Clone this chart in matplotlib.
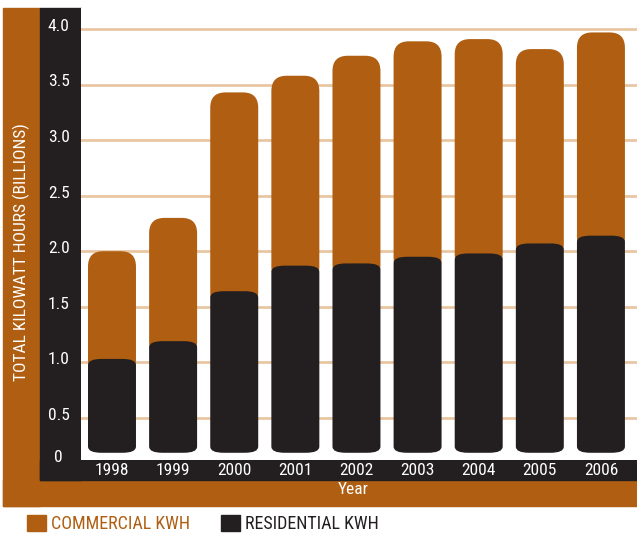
import matplotlib
matplotlib.use('Agg')
import matplotlib.pyplot as plt
from matplotlib.patches import Rectangle, FancyBboxPatch, Patch
from matplotlib.transforms import ScaledTranslation

# data (billions of kWh)
years = ['1998', '1999', '2000', '2001', '2002', '2003', '2004', '2005', '2006']
residential = [1.03, 1.19, 1.64, 1.87, 1.89, 1.95, 1.98, 2.07, 2.14]
total = [2.00, 2.30, 3.43, 3.58, 3.76, 3.89, 3.91, 3.82, 3.97]
commercial = [t - r for t, r in zip(total, residential)]
ytick_vals = [0.5, 1.0, 1.5, 2.0, 2.5, 3.0, 3.5, 4.0]

ORANGE = '#b05f12'
DARK = '#231f20'
GRID = '#e9c6a2'
W, H = 637, 536
plt.rcParams['font.family'] = ['Roboto Condensed', 'DejaVu Sans']

fig = plt.figure(figsize=(W / 100, H / 100), dpi=100)


def fig_rect(x0, y0, x1, y1, color):
    # pixel coords, origin top-left
    fig.patches.append(Rectangle((x0 / W, 1 - y1 / H), (x1 - x0) / W, (y1 - y0) / H,
                                 transform=fig.transFigure, color=color, zorder=-5))


fig_rect(3, 8, 40, 506, ORANGE)
fig_rect(3, 480, 637, 506, ORANGE)
fig_rect(40, 8, 81, 480, DARK)
fig_rect(40, 460, 637, 480, DARK)

ax = fig.add_axes([81 / W, 1 - 460 / H, 1 - 81 / W, (460 - 8) / H])
ax.set_facecolor('white')
y_lo, y_hi = 0.12, 4.19
x_lo, x_hi = -0.507, 8.59
ax.set_xlim(x_lo, x_hi)
ax.set_ylim(y_lo, y_hi)
for s in ax.spines.values():
    s.set_visible(False)

for v in ytick_vals:
    ax.axhline(v, color=GRID, lw=2, zorder=1)

base = 0.185
bw = 0.785
xs = range(len(years))
# pixel aspect: y units per px / x units per px
ax_w = W - 81
ax_h = 460 - 8
aspect = ((y_hi - y_lo) / ax_h) / ((x_hi - x_lo) / ax_w)

com_bars = ax.bar(xs, commercial, bw, bottom=residential, color=ORANGE, zorder=2)
res_bars = ax.bar(xs, [r - base for r in residential], bw, bottom=base, color=DARK, zorder=3)

for b in com_bars:
    x0, w = b.get_x(), b.get_width()
    y0 = b.get_y() - 0.15
    h = b.get_y() + b.get_height() - y0
    ax.add_patch(FancyBboxPatch((x0, y0), w, h, boxstyle='round,pad=0,rounding_size=0.25',
                                mutation_aspect=aspect, color=ORANGE, lw=0, zorder=2))
    b.set_visible(False)
for b in res_bars:
    ax.add_patch(FancyBboxPatch((b.get_x(), b.get_y()), b.get_width(), b.get_height(),
                                boxstyle='round,pad=0,rounding_size=0.22',
                                mutation_aspect=aspect * 0.45, color=DARK, lw=0, zorder=3))
    b.set_visible(False)

ax.set_xticks(list(xs))
ax.set_xticklabels(years)
ax.set_yticks([y_lo] + ytick_vals)
ax.set_yticklabels(['0'] + ['%.1f' % v for v in ytick_vals])
ax.tick_params(axis='both', length=0, colors='white', labelsize=12.5)
ax.tick_params(axis='y', pad=16)
ax.tick_params(axis='x', pad=2)
off = ScaledTranslation(0, 3 / 72, fig.dpi_scale_trans)
for lab in ax.get_yticklabels():
    lab.set_horizontalalignment('center')
    lab.set_transform(lab.get_transform() + off)

fig.text(21 / W, 1 - 252 / H, 'TOTAL KILOWATT HOURS (BILLIONS)', rotation=90,
         color='white', fontsize=12.5, ha='center', va='center')
fig.text(353 / W, 1 - 490 / H, 'Year', color='white', fontsize=12.5, ha='center', va='center')

handles = [Patch(color=ORANGE, label='COMMERCIAL KWH'), Patch(color=DARK, label='RESIDENTIAL KWH')]
leg = fig.legend(handles=handles, loc='center left', bbox_to_anchor=(11 / W, 1 - 524 / H), ncol=2,
                 frameon=False, fontsize=13, handlelength=1.05, handleheight=1.05,
                 handletextpad=0.25, columnspacing=1.75)
leg.get_texts()[0].set_color(ORANGE)
leg.get_texts()[1].set_color(DARK)

fig.savefig('out.png', dpi=100)
